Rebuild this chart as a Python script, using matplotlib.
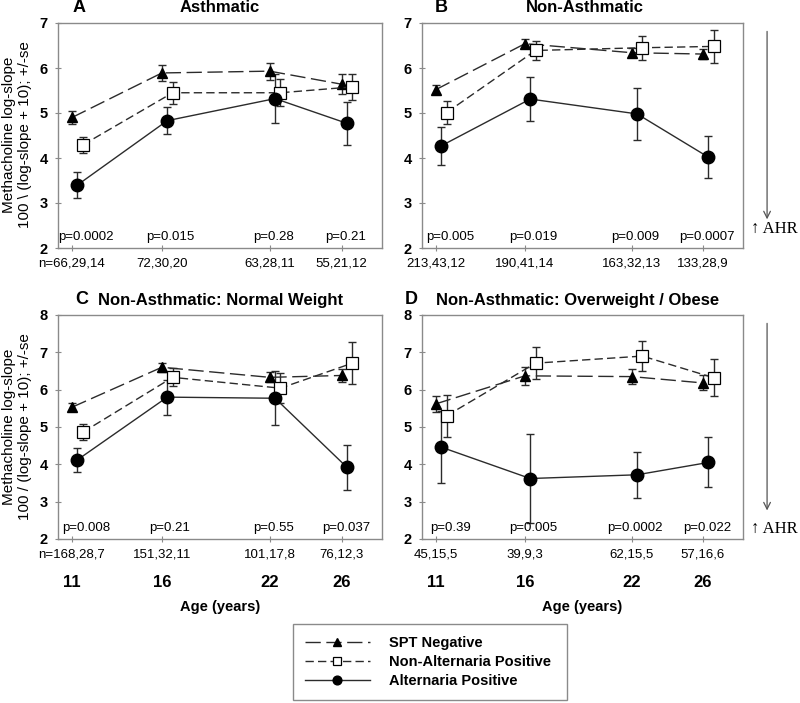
import matplotlib
matplotlib.use("Agg")
import matplotlib.pyplot as plt

plt.rcParams["font.family"] = ["Liberation Sans", "DejaVu Sans"]

ages = [11, 16, 22, 26]

# A: asthmatic
spt_a = [4.90, 5.89, 5.93, 5.64]
spt_a_se = [0.15, 0.18, 0.19, 0.22]
nonalt_a = [4.29, 5.45, 5.45, 5.58]
nonalt_a_se = [0.18, 0.24, 0.30, 0.28]
alt_a = [3.40, 4.83, 5.32, 4.77]
alt_a_se = [0.29, 0.30, 0.55, 0.48]
n_a = ["n=66,29,14", "72,30,20", "63,28,11", "55,21,12"]
p_a = ["p=0.0002", "p=0.015", "p=0.28", "p=0.21"]

# B: non-asthmatic
spt_b = [5.52, 6.54, 6.34, 6.31]
spt_b_se = [0.10, 0.10, 0.10, 0.12]
nonalt_b = [5.01, 6.39, 6.45, 6.48]
nonalt_b_se = [0.25, 0.21, 0.27, 0.37]
alt_b = [4.27, 5.31, 4.98, 4.02]
alt_b_se = [0.42, 0.49, 0.57, 0.46]
n_b = ["213,43,12", "190,41,14", "163,32,13", "133,28,9"]
p_b = ["p=0.005", "p=0.019", "p=0.009", "p=0.0007"]

# C: non-asthmatic, normal weight
spt_c = [5.53, 6.60, 6.33, 6.38]
spt_c_se = [0.11, 0.12, 0.13, 0.18]
nonalt_c = [4.86, 6.33, 6.04, 6.71]
nonalt_c_se = [0.22, 0.24, 0.40, 0.56]
alt_c = [4.12, 5.80, 5.77, 3.92]
alt_c_se = [0.33, 0.47, 0.72, 0.60]
n_c = ["n=168,28,7", "151,32,11", "101,17,8", "76,12,3"]
p_c = ["p=0.008", "p=0.21", "p=0.55", "p=0.037"]

# D: non-asthmatic, overweight / obese
spt_d = [5.62, 6.37, 6.35, 6.18]
spt_d_se = [0.21, 0.24, 0.20, 0.20]
nonalt_d = [5.30, 6.71, 6.90, 6.32]
nonalt_d_se = [0.56, 0.43, 0.40, 0.50]
alt_d = [4.46, 3.62, 3.72, 4.05]
alt_d_se = [0.97, 1.18, 0.61, 0.67]
n_d = ["45,15,5", "39,9,3", "62,15,5", "57,16,6"]
p_d = ["p=0.39", "p=0.005", "p=0.0002", "p=0.022"]

line_col = "#2b2b2b"
spine_col = "#8a8a8a"

fig = plt.figure(figsize=(8.0, 7.03), dpi=100)

# axes boxes measured in pixels (left, top, right, bottom)
def add_box(l, t, r, b):
    W, H = 800.0, 703.0
    return fig.add_axes([l / W, 1 - b / H, (r - l) / W, (b - t) / H])

ax_a = add_box(58, 23, 382, 248)
ax_b = add_box(422, 23, 743, 248)
ax_c = add_box(58, 315, 382, 539)
ax_d = add_box(422, 315, 743, 539)


def draw_panel(ax, spt, spt_se, nonalt, nonalt_se, alt, alt_se, nlabels, plabels, ymax, bottom):
    x_spt = [a for a in ages]
    x_alt = [a + 0.3 for a in ages]
    x_non = [a + 0.6 for a in ages]
    eb = dict(fmt="none", ecolor=line_col, elinewidth=1.0, capsize=3.2, capthick=1.0, zorder=2)
    ax.errorbar(x_spt, spt, yerr=spt_se, **eb)
    ax.errorbar(x_non, nonalt, yerr=nonalt_se, **eb)
    ax.errorbar(x_alt, alt, yerr=alt_se, **eb)
    ax.plot(x_spt, spt, color=line_col, lw=1.0, dashes=(11, 4), marker="^",
            ms=7.5, mfc="black", mec="black", label="SPT Negative", zorder=3)
    ax.plot(x_non, nonalt, color=line_col, lw=1.0, dashes=(6, 3), marker="s",
            ms=8, mfc="white", mec="black", mew=0.9, label="Non-Alternaria Positive", zorder=3)
    ax.plot(x_alt, alt, color=line_col, lw=1.0, marker="o",
            ms=9, mfc="black", mec="black", label="Alternaria Positive", zorder=3)

    ax.set_xlim(10.22, 28.25)
    ax.set_ylim(2, ymax)
    ax.set_yticks(range(2, ymax + 1))
    ax.set_xticks(ages)
    ax.set_xticklabels(nlabels, fontsize=9.5)
    ax.tick_params(axis="x", direction="inout", length=5, width=0.8, color=spine_col, pad=4)
    ax.tick_params(axis="y", direction="inout", length=5, width=0.8, color=spine_col, pad=5)
    for lab in ax.get_yticklabels():
        lab.set_fontweight("bold")
        lab.set_fontsize(10.5)
    for s in ax.spines.values():
        s.set_color(spine_col)
        s.set_linewidth(1.0)

    p_shift = [0.8, 0.45, 0.2, 0.25]
    for a, sh, p in zip(ages, p_shift, plabels):
        ax.text(a + sh, 0.05, p, transform=ax.get_xaxis_transform(),
                ha="center", va="center", fontsize=9.5)

    if bottom:
        for a in ages:
            ax.annotate(str(a), xy=(a, 0), xycoords=("data", "axes fraction"),
                        xytext=(0, -31), textcoords="offset points",
                        ha="center", va="center", fontsize=12, fontweight="bold")
        ax.annotate("Age (years)", xy=(0.5, 0), xycoords="axes fraction",
                    xytext=(0, -49), textcoords="offset points",
                    ha="center", va="center", fontsize=10.5, fontweight="bold")


draw_panel(ax_a, spt_a, spt_a_se, nonalt_a, nonalt_a_se, alt_a, alt_a_se, n_a, p_a, 7, False)
draw_panel(ax_b, spt_b, spt_b_se, nonalt_b, nonalt_b_se, alt_b, alt_b_se, n_b, p_b, 7, False)
draw_panel(ax_c, spt_c, spt_c_se, nonalt_c, nonalt_c_se, alt_c, alt_c_se, n_c, p_c, 8, True)
draw_panel(ax_d, spt_d, spt_d_se, nonalt_d, nonalt_d_se, alt_d, alt_d_se, n_d, p_d, 8, True)

# panel letters and titles
title_kw = dict(fontsize=12, fontweight="bold", va="center")
letter_kw = dict(fontsize=13, fontweight="bold", va="center")
fig.text(73 / 800, 1 - 8 / 703, "A", ha="left", **letter_kw)
fig.text(220 / 800, 1 - 8 / 703, "Asthmatic", ha="center", **title_kw)
fig.text(435 / 800, 1 - 8 / 703, "B", ha="left", **letter_kw)
fig.text(585 / 800, 1 - 8 / 703, "Non-Asthmatic", ha="center", **title_kw)
fig.text(75 / 800, 1 - 300 / 703, "C", ha="left", **letter_kw)
fig.text(221 / 800, 1 - 300 / 703, "Non-Asthmatic: Normal Weight", ha="center", **title_kw)
fig.text(405 / 800, 1 - 300 / 703, "D", ha="left", **letter_kw)
fig.text(578 / 800, 1 - 300 / 703, "Non-Asthmatic: Overweight / Obese", ha="center", **title_kw)

# y labels
fig.text(17 / 800, 1 - 135 / 703, "Methacholine log-slope\n100 \\ (log-slope + 10); +/-se",
         rotation=90, ha="center", va="center", fontsize=11, linespacing=1.1)
fig.text(17 / 800, 1 - 427 / 703, "Methacholine log-slope\n100 / (log-slope + 10); +/-se",
         rotation=90, ha="center", va="center", fontsize=11, linespacing=1.1)

# AHR arrows on the right
for ax, ty in [(ax_b, 0.085), (ax_d, 0.045)]:
    ax.annotate("", xy=(1.075, 0.115), xytext=(1.075, 0.975), xycoords="axes fraction",
                arrowprops=dict(arrowstyle="->", color="#555555", lw=0.9,
                                mutation_scale=12))
    ax.text(1.025, ty, "\u2191 AHR", transform=ax.transAxes, ha="left", va="center",
            fontsize=12, family=["Liberation Serif", "DejaVu Serif"])

handles, labels = ax_a.get_legend_handles_labels()
leg = fig.legend(handles, labels, loc="lower left",
                 bbox_to_anchor=(293 / 800, 3 / 703, 274 / 800, 75 / 703),
                 mode="expand", prop={"weight": "bold", "size": 10.5},
                 frameon=True, fancybox=False, edgecolor=spine_col, framealpha=1,
                 handlelength=4.5, handletextpad=1.3, labelspacing=0.35,
                 borderpad=0.8, numpoints=1, markerscale=0.7, borderaxespad=0)
leg.get_frame().set_linewidth(1.0)

fig.savefig("out.png", dpi=100)
